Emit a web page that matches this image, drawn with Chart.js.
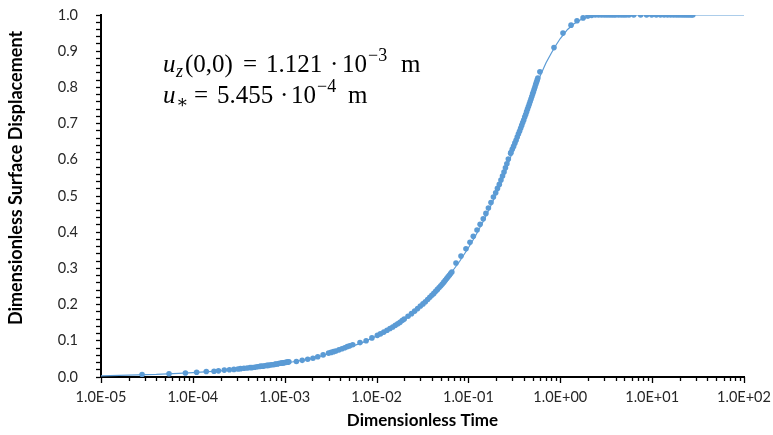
<!DOCTYPE html>
<html><head><meta charset="utf-8">
<script src="https://cdn.jsdelivr.net/npm/chart.js@4/dist/chart.umd.min.js"></script>
<style>html,body{margin:0;padding:0;background:#fff}#wrap{width:773px;height:435px;position:relative}</style>
</head><body><div id="wrap"><canvas id="c" width="773" height="435"></canvas></div>
<script>
// ---- data ----
const measuredTime = [
  2.8e-5,5.5e-5,8.3e-5,1.1e-4,1.4e-4,1.7e-4,1.9e-4,2.2e-4,2.5e-4,2.8e-4,
  3.1e-4,3.3e-4,3.6e-4,3.9e-4,4.2e-4,4.4e-4,4.7e-4,5.0e-4,5.3e-4,5.5e-4,
  5.8e-4,6.1e-4,6.4e-4,6.6e-4,6.9e-4,7.2e-4,7.5e-4,7.8e-4,8.0e-4,8.3e-4,
  8.6e-4,8.9e-4,9.1e-4,9.4e-4,9.7e-4,1.0e-3,1.03e-3,1.05e-3,1.08e-3,1.11e-3,
  1.34e-3,1.55e-3,1.78e-3,2.03e-3,2.29e-3,2.62e-3,3.0e-3,3.2e-3,3.4e-3,3.6e-3,
  3.9e-3,4.2e-3,4.5e-3,4.8e-3,5.1e-3,5.5e-3,6.6e-3,7.7e-3,8.9e-3,1.02e-2,
  0.011,0.012,0.013,0.014,0.015,0.016,0.017,0.018,0.019,0.020,
  0.022,0.024,0.026,0.028,0.030,0.032,0.034,0.036,0.038,0.040,
  0.042,0.044,0.046,0.048,0.050,0.052,0.054,0.056,0.058,0.060,0.062,0.064,0.066,
  0.0732,0.083,0.094,0.104,0.113,0.124,0.134,0.145,0.155,0.165,0.176,
  0.187,0.198,0.207,0.217,0.226,0.235,0.244,0.253,0.262,0.272,0.288,
  0.29,0.30,0.31,0.32,0.33,0.34,0.35,0.36,0.37,0.38,0.39,0.40,0.41,0.42,0.43,
  0.44,0.45,0.46,0.47,0.48,0.49,0.50,0.51,0.52,0.53,0.54,0.55,0.56,0.57,
  0.60,0.854,1.07,1.31,1.52,1.77,2.0,2.2,
  2.4,2.6,2.8,3.0,3.2,3.4,3.6,3.8,4.0,4.3,4.6,4.9,5.2,5.6,
  6.3,7.5,8.7,9.9,11.1,12.3,13.5,14.7,15.9,17.1,18.3,19.5,20.7,21.9,23.1,24.3,25.5,26.7,27.7
];
const measuredDisp = [
  0.007,0.009,0.011,0.013,0.015,0.016,0.017,0.019,0.020,0.021,
  0.022,0.023,0.024,0.025,0.026,0.026,0.027,0.028,0.029,0.030,
  0.030,0.031,0.032,0.032,0.033,0.034,0.034,0.035,0.036,0.036,
  0.037,0.038,0.038,0.039,0.039,0.040,0.040,0.041,0.041,0.042,
  0.043,0.046,0.049,0.052,0.056,0.061,0.066,0.068,0.070,0.072,
  0.075,0.078,0.081,0.084,0.086,0.089,0.095,0.100,0.108,0.115,
  0.119,0.124,0.129,0.134,0.138,0.143,0.147,0.151,0.156,0.160,
  0.168,0.175,0.182,0.189,0.196,0.202,0.208,0.214,0.220,0.226,
  0.231,0.237,0.242,0.247,0.252,0.257,0.262,0.267,0.272,0.277,0.281,0.286,0.290,
  0.315,0.334,0.354,0.372,0.389,0.406,0.422,0.437,0.452,0.467,0.482,
  0.497,0.509,0.521,0.532,0.544,0.555,0.566,0.578,0.589,0.602,0.618,
  0.620,0.629,0.637,0.646,0.654,0.663,0.671,0.679,0.687,0.695,0.703,0.710,0.718,0.725,0.733,
  0.740,0.747,0.754,0.761,0.768,0.775,0.782,0.788,0.795,0.801,0.808,0.814,0.820,0.826,
  0.843,0.910,0.950,0.972,0.984,0.992,0.997,0.999,
  1.0,1.0,1.0,1.0,1.0,1.0,1.0,1.0,1.0,1.0,1.0,1.0,1.0,1.0,
  1.0,1.0,1.0,1.0,1.0,1.0,1.0,1.0,1.0,1.0,1.0,1.0,1.0,1.0,1.0,1.0,1.0,1.0,1.0
];
const curveTime = [1e-5,2e-5,4e-5,7e-5,1e-4,2e-4,4e-4,7e-4,1e-3,2e-3,4e-3,7e-3,1e-2,1.5e-2,2e-2,3e-2,4e-2,5e-2,6e-2,7e-2,8e-2,
  0.1,0.12,0.15,0.18,0.2,0.25,0.3,0.35,0.4,0.45,0.5,0.55,0.6,0.7,0.8,0.9,1.0,1.2,1.4,1.7,2.0,2.5,3,4,5,7,10,20,50,100];
const curveDisp = [0.003,0.005,0.007,0.010,0.012,0.017,0.024,0.032,0.038,0.051,0.073,0.095,0.113,0.138,0.159,0.195,0.226,0.252,0.276,0.299,0.319,
  0.357,0.391,0.437,0.479,0.505,0.564,0.620,0.668,0.707,0.743,0.776,0.805,0.830,0.868,0.895,0.917,0.935,0.960,0.975,0.988,0.994,0.998,0.999,1.0,1.0,1.0,1.0,1.0,1.0,1.0];
const xTickLabels = ['1.0E-05','1.0E-04','1.0E-03','1.0E-02','1.0E-01','1.0E+00','1.0E+01','1.0E+02'];
const yTickLabels = ['0.0','0.1','0.2','0.3','0.4','0.5','0.6','0.7','0.8','0.9','1.0'];
const xTitle = 'Dimensionless Time';
const yTitle = 'Dimensionless Surface Displacement';

const BLUE = '#5B9BD5';
const SANS = 'Lato, "Open Sans", sans-serif';
const SERIF = '"Liberation Serif", "DejaVu Serif", serif';

const pts = measuredTime.map((t,i)=>({x:t,y:measuredDisp[i]}));
const curve = curveTime.map((t,i)=>({x:t,y:curveDisp[i]}));

const decorations = {
  id:'decorations',
  afterDraw(chart){
    const ctx = chart.ctx, xs = chart.scales.x, area = chart.chartArea;
    ctx.save();
    // x tick marks (major longer than minor)
    ctx.strokeStyle = '#000'; ctx.lineWidth = 1.3;
    xs.ticks.forEach(t=>{
      const p = Math.round(xs.getPixelForValue(t.value))+0.5;
      const e = Math.log10(t.value);
      const major = Math.abs(e-Math.round(e))<1e-6;
      ctx.beginPath(); ctx.moveTo(p, area.bottom); ctx.lineTo(p, area.bottom + (major?6:4)); ctx.stroke();
    });
    // axis titles
    ctx.fillStyle = '#000';
    ctx.font = 'bold 17px ' + SANS;
    ctx.textAlign = 'center'; ctx.textBaseline = 'middle';
    ctx.fillText(xTitle, (area.left+area.right)/2, 421);
    ctx.translate(16, 178); ctx.rotate(-Math.PI/2);
    ctx.font = 'bold 18px ' + SANS;
    ctx.fillText(yTitle, 0, 0);
    ctx.restore();
    // equation annotation, pieces laid out left to right
    ctx.save();
    ctx.fillStyle = '#000'; ctx.textBaseline = 'alphabetic'; ctx.textAlign = 'left';
    const big = '25px ' + SERIF, bigI = 'italic 25px ' + SERIF, sm = '18px ' + SERIF, smI = 'italic 18px ' + SERIF;
    const put = (t, f, x, y) => { ctx.font = f; ctx.fillText(t, x, y); };
    let y = 72;
    put('u', bigI, 163, y); put('z', smI, 176, y+5); put('(0,0)', big, 185, y);
    put('=', big, 243, y); put('1.121', big, 266, y); put('·', big, 330, y);
    put('10', big, 342, y); put('−3', sm, 368, y-11); put('m', big, 401, y);
    y = 103;
    put('u', bigI, 163, y); put('∗', sm, 176, y+5);
    put('=', big, 194, y); put('5.455', big, 217, y); put('·', big, 280, y);
    put('10', big, 291, y); put('−4', sm, 317, y-11); put('m', big, 348, y);
    ctx.restore();
  }
};

new Chart(document.getElementById('c'), {
  type:'scatter',
  data:{datasets:[
    {label:'data', data:pts, showLine:false, pointRadius:2.8, pointHoverRadius:2.8,
     pointBackgroundColor:BLUE, pointBorderWidth:0, order:1},
    {label:'model', data:curve, showLine:true, borderColor:BLUE, borderWidth:1.2,
     pointRadius:0, fill:false, tension:0, order:2}
  ]},
  options:{
    responsive:false, animation:false, devicePixelRatio:1,
    layout:{padding:{left:0,right:29,top:15,bottom:0}},
    plugins:{legend:{display:false}, tooltip:{enabled:false}},
    scales:{
      x:{type:'logarithmic', min:1e-5, max:100,
        border:{display:true, color:'#000', width:2},
        grid:{display:false, drawTicks:false},
        afterBuildTicks:(s)=>{ s.ticks = s.ticks.filter(t=>{
          const e = Math.floor(Math.log10(t.value)+1e-9); const m = t.value/Math.pow(10,e);
          return Math.abs(m-1.5)>1e-6; }); },
        ticks:{autoSkip:false, maxRotation:0, minRotation:0, padding:12, color:'#262626',
          font:{family:SANS, size:14.5},
          callback:(v)=>{ const e = Math.log10(v); const r = Math.round(e);
            return Math.abs(e-r)<1e-6 ? xTickLabels[r+5] : ''; }},
        afterFit:(s)=>{ s.height = 58; s.paddingLeft = 0; s.paddingRight = 0; }
      },
      y:{min:0, max:1,
        border:{display:true, color:'#000', width:2},
        grid:{drawOnChartArea:false, drawTicks:true, tickLength:5, tickColor:'#000', tickWidth:1.3},
        ticks:{stepSize:0.02, autoSkip:false, padding:18, color:'#262626', font:{family:SANS, size:14.5},
          callback:(v)=>{ const k = Math.round(v*50); return k%5===0 ? yTickLabels[k/5] : ''; }},
        afterFit:(s)=>{ s.width = 101; s.paddingTop = 0; s.paddingBottom = 0; }
      }
    }
  },
  plugins:[decorations]
});
</script></body></html>
